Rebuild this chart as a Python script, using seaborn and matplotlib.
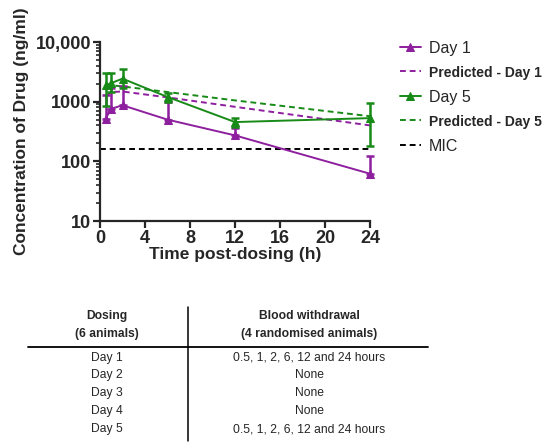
import numpy as np
import pandas as pd
import matplotlib
matplotlib.use('Agg')
import matplotlib.pyplot as plt
from matplotlib.lines import Line2D
from matplotlib.ticker import FixedLocator, LogLocator, NullFormatter
import seaborn as sns

# Measured concentrations (ng/ml)
time_h = [0.5, 1, 2, 6, 12, 24]
day1_mean = [520, 760, 870, 500, 272, 62]
day1_upper = [1275, 1720, 1860, 980, 363, 121]
day5_mean = [1870, 2050, 2430, 1200, 455, 530]
day5_upper = [3020, 3020, 3560, 1400, 540, 950]
day5_lower = [835, 1450, 1670, 1000, 375, 178]

# Model predictions
pred_time = [0.5, 1, 2, 6, 12, 24]
pred_day1 = [1250, 1450, 1480, 1180, 820, 400]
pred_day5 = [1850, 1880, 1800, 1450, 1050, 570]

mic_value = 160
mic_time = [0, 24]

# Study design table
dosing_days = ['Day 1', 'Day 2', 'Day 3', 'Day 4', 'Day 5']
withdrawal_times = ['0.5, 1, 2, 6, 12 and 24 hours', 'None', 'None', 'None',
                    '0.5, 1, 2, 6, 12 and 24 hours']

PURPLE = '#8e1f9e'
GREEN = '#188a18'

sns.set_style('ticks')
plt.rcParams['font.family'] = ['Liberation Sans', 'DejaVu Sans']

fig = plt.figure(figsize=(5.5, 4.45), dpi=100)
W, H = 550, 445
ax = fig.add_axes([100 / W, 1 - 221 / H, 270 / W, 179 / H])

meas = pd.DataFrame({'t': time_h, 'd1': day1_mean, 'd5': day5_mean})
pred = pd.DataFrame({'t': pred_time, 'p1': pred_day1, 'p5': pred_day5})
mic = pd.DataFrame({'t': mic_time, 'mic': [mic_value] * len(mic_time)})

# error bars (day 1 upper only, day 5 both sides)
d1_err = [np.zeros(len(day1_mean)), np.array(day1_upper) - np.array(day1_mean)]
d5_err = [np.array(day5_mean) - np.array(day5_lower), np.array(day5_upper) - np.array(day5_mean)]
for t_vals, m_vals, err, col in [(time_h, day1_mean, d1_err, PURPLE),
                                 (time_h, day5_mean, d5_err, GREEN)]:
    eb = ax.errorbar(t_vals, m_vals, yerr=err, fmt='none', ecolor=col,
                     elinewidth=1.8, capsize=2.8, capthick=1.8, zorder=3)
    for art in eb.lines[1] + eb.lines[2]:
        art.set_clip_on(False)

sns.lineplot(data=meas, x='t', y='d1', ax=ax, color=PURPLE, lw=1.4,
             marker='^', markersize=5.5, markeredgecolor=PURPLE, label='Day 1', zorder=4)
sns.lineplot(data=pred, x='t', y='p1', ax=ax, color=PURPLE, lw=1.4,
             linestyle=(0, (3, 2)), label='Predicted - Day 1', zorder=2)
sns.lineplot(data=meas, x='t', y='d5', ax=ax, color=GREEN, lw=1.4,
             marker='^', markersize=5.5, markeredgecolor=GREEN, label='Day 5', zorder=4)
sns.lineplot(data=pred, x='t', y='p5', ax=ax, color=GREEN, lw=1.4,
             linestyle=(0, (3, 2)), label='Predicted - Day 5', zorder=2)
sns.lineplot(data=mic, x='t', y='mic', ax=ax, color='black', lw=1.4,
             linestyle=(0, (3, 2)), label='MIC', zorder=2)
for ln in ax.get_lines():
    ln.set_clip_on(False)

ax.set_yscale('log')
ax.set_ylim(10, 10000)
ax.set_xlim(0, 24)
ax.set_xticks([0, 4, 8, 12, 16, 20, 24])
ax.yaxis.set_major_locator(FixedLocator([10, 100, 1000, 10000]))
ax.yaxis.set_minor_locator(LogLocator(base=10, subs=np.arange(2, 10)))
ax.yaxis.set_minor_formatter(NullFormatter())
ax.set_yticklabels(['10', '100', '1000', '10,000'])
ax.tick_params(axis='both', which='major', labelsize=13, width=1.6, length=5, pad=1.5)
ax.tick_params(axis='y', which='minor', width=1.2, length=3)
for lab in ax.get_xticklabels() + ax.get_yticklabels():
    lab.set_fontweight('bold')
for side in ['left', 'bottom']:
    ax.spines[side].set_linewidth(1.6)
sns.despine(ax=ax)

ax.set_xlabel('Time post-dosing (h)', fontsize=12.5, fontweight='bold', labelpad=0)
ax.set_ylabel('Concentration of Drug (ng/ml)', fontsize=12.5, fontweight='bold', labelpad=5)

leg = ax.legend(loc='upper left', bbox_to_anchor=(392 / W, 1 - 33 / H),
                bbox_transform=fig.transFigure, frameon=False, handlelength=1.3,
                handletextpad=0.5, labelspacing=0.62, fontsize=11.5, borderpad=0)
for txt in leg.get_texts():
    if txt.get_text().startswith('Predicted'):
        txt.set_fontsize(10)
        txt.set_fontweight('bold')

# design table below the chart
tab = fig.add_axes([0, 0, 1, 1 - 290 / H])
tab.set_xlim(0, W)
tab.set_ylim(H, 290)
tab.axis('off')
hdr = dict(ha='center', va='center', fontsize=8.7, fontweight='bold')
tab.text(107, 316, 'Dosing', **hdr)
tab.text(107, 334, '(6 animals)', **hdr)
tab.text(309, 316, 'Blood withdrawal', **hdr)
tab.text(309, 334, '(4 randomised animals)', **hdr)
tab.add_line(Line2D([28, 428], [347, 347], color='black', lw=1.3))
tab.add_line(Line2D([188, 188], [307, 441], color='black', lw=1.1))
for i, (d, w) in enumerate(zip(dosing_days, withdrawal_times)):
    y = 357.5 + i * 17.9
    tab.text(107, y, d, ha='center', va='center', fontsize=8.7)
    tab.text(309, y, w, ha='center', va='center', fontsize=8.7)

fig.savefig('out.png', dpi=100)
